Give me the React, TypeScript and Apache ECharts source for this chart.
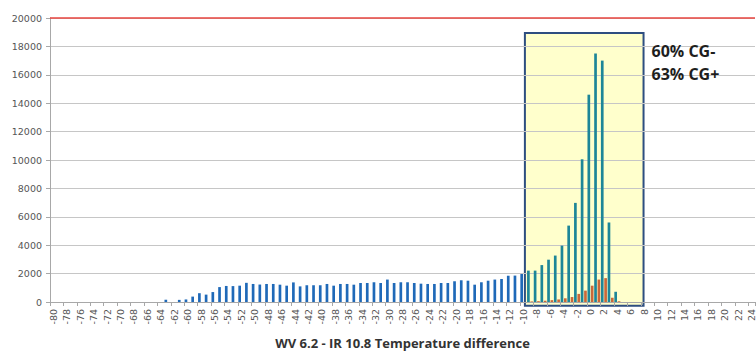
import React, { useEffect, useRef } from 'react';
import * as echarts from 'echarts';

// Temperature difference categories (WV 6.2 - IR 10.8)
const categories: string[] = [
  '-80', '-79', '-78', '-77', '-76', '-75', '-74', '-73', '-72', '-71',
  '-70', '-69', '-68', '-67', '-66', '-65', '-64', '-63', '-62', '-61',
  '-60', '-59', '-58', '-57', '-56', '-55', '-54', '-53', '-52', '-51',
  '-50', '-49', '-48', '-47', '-46', '-45', '-44', '-43', '-42', '-41',
  '-40', '-39', '-38', '-37', '-36', '-35', '-34', '-33', '-32', '-31',
  '-30', '-29', '-28', '-27', '-26', '-25', '-24', '-23', '-22', '-21',
  '-20', '-19', '-18', '-17', '-16', '-15', '-14', '-13', '-12', '-11',
  '-10', '-9', '-8', '-7', '-6', '-5', '-4', '-3', '-2', '-1',
  '0', '1', '2', '3', '4', '5', '6', '7', '8', '9',
  '10', '11', '12', '13', '14', '15', '16', '17', '18', '19',
  '20', '21', '22', '23', '24',
];

// CG- counts (blue)
const cgMinusCounts: number[] = [
  0, 0, 0, 0, 0, 0, 0, 0, 0, 0,
  0, 0, 0, 0, 0, 0, 0, 160, 0, 150,
  180, 380, 620, 520, 700, 1050, 1130, 1120, 1150, 1350,
  1270, 1230, 1270, 1270, 1220, 1150, 1380, 1100, 1180, 1180,
  1180, 1270, 1150, 1270, 1270, 1220, 1340, 1340, 1390, 1340,
  1580, 1340, 1390, 1390, 1340, 1290, 1270, 1270, 1340, 1340,
  1460, 1530, 1500, 1220, 1390, 1500, 1580, 1620, 1850, 1860,
  1970, 2210, 2210, 2600, 2980, 3270, 3970, 5380, 6980, 10050,
  14600, 17500, 17000, 5600, 720, 0, 0, 0, 0, 0,
  0, 0, 0, 0, 0, 0, 0, 0, 0, 0,
  0, 0, 0, 0, 0,
];

// CG+ counts (red-brown)
const cgPlusCounts: number[] = [
  0, 0, 0, 0, 0, 0, 0, 0, 0, 0,
  0, 0, 0, 0, 0, 0, 0, 0, 0, 0,
  0, 0, 0, 0, 0, 0, 0, 0, 0, 0,
  0, 0, 0, 0, 0, 0, 0, 0, 0, 0,
  0, 0, 0, 0, 0, 0, 0, 0, 0, 0,
  0, 0, 0, 0, 0, 0, 0, 0, 0, 0,
  0, 0, 0, 0, 0, 0, 0, 0, 0, 0,
  0, 40, 60, 90, 130, 180, 260, 350, 570, 800,
  1150, 1580, 1680, 300, 50, 0, 0, 0, 0, 0,
  0, 0, 0, 0, 0, 0, 0, 0, 0, 0,
  0, 0, 0, 0, 0,
];

const yMin = 0;
const yMax = 20000;
const yStep = 2000;
const redLineValue = 20000;

// highlighted window (in temperature-difference units) and its count extent
const boxFrom = -9.77;
const boxTo = 7.9;
const boxTop = 18940;
const boxBottom = -260;

const annotationLines = ['60% CG-', '63% CG+'];
const axisTitle = 'WV 6.2 - IR 10.8 Temperature difference';

const BLUE = '#1f69b8';
const TEAL = '#1d8698';
const BROWN = '#b0483a';
const ORANGE = '#c9683a';

const inBox = (idx: number) => {
  const v = Number(categories[idx]);
  return v > boxFrom && v < boxTo;
};

export default function App() {
  const ref = useRef<HTMLDivElement>(null);

  useEffect(() => {
    if (!ref.current) return;
    const chart = echarts.init(ref.current, null, { renderer: 'svg' });
    chart.setOption({
      animation: false,
      grid: {
        left: 50,
        right: 1,
        top: 18,
        bottom: 50,
        containLabel: false,
        outerBoundsMode: 'none',
      },
      xAxis: [
        {
          type: 'category',
          data: categories,
          boundaryGap: true,
          axisLine: { show: true, lineStyle: { color: '#a8a8a8', width: 1 } },
          axisTick: { show: true, interval: 1, length: 4, lineStyle: { color: '#a8a8a8' } },
          axisLabel: {
            interval: 1,
            rotate: 90,
            fontSize: 9.5,
            color: '#555',
            margin: 7,
            fontFamily: 'DejaVu Sans',
          },
          splitLine: { show: false },
          name: axisTitle,
          nameLocation: 'middle',
          nameGap: 34,
          nameTextStyle: {
            fontWeight: 'bold',
            fontSize: 13,
            color: '#333',
            fontFamily: 'Open Sans',
          },
        },
        {
          type: 'value',
          min: -80.5,
          max: 24.5,
          show: false,
          gridIndex: 0,
          axisLine: { onZero: false },
        },
      ],
      yAxis: {
        type: 'value',
        min: yMin,
        max: yMax,
        interval: yStep,
        axisLine: { show: true, onZero: false, lineStyle: { color: '#a8a8a8' } },
        axisTick: { show: true, length: 4, lineStyle: { color: '#a8a8a8' } },
        axisLabel: {
          fontSize: 9.5,
          color: '#555',
          margin: 8,
          fontFamily: 'DejaVu Sans',
          formatter: (v: number) => String(v),
        },
        splitLine: { show: true, lineStyle: { color: '#c6c6c6', width: 1 } },
      },
      series: [
        {
          type: 'bar',
          name: 'CG-',
          data: cgMinusCounts,
          barWidth: '40%',
          barGap: '25%',
          z: 2,
          itemStyle: {
            color: (p: any) => (inBox(p.dataIndex) ? TEAL : BLUE),
          },
          markLine: {
            silent: true,
            symbol: ['none', 'none'],
            label: { show: false },
            lineStyle: { color: '#e8453f', width: 1.5, type: 'solid' },
            data: [{ yAxis: redLineValue }],
          },
        },
        {
          type: 'bar',
          name: 'CG+',
          data: cgPlusCounts,
          barWidth: '40%',
          barGap: '25%',
          z: 2,
          itemStyle: {
            color: (p: any) => (inBox(p.dataIndex) ? ORANGE : BROWN),
          },
        },
      ],
    });

    const x1 = chart.convertToPixel({ xAxisIndex: 1 }, boxFrom) as number;
    const x2 = chart.convertToPixel({ xAxisIndex: 1 }, boxTo) as number;
    const y1 = chart.convertToPixel({ yAxisIndex: 0 }, boxTop) as number;
    const y2 = chart.convertToPixel({ yAxisIndex: 0 }, boxBottom) as number;

    chart.setOption({
      graphic: [
        {
          type: 'rect',
          z: -10,
          shape: { x: x1, y: y1, width: x2 - x1, height: y2 - y1 },
          style: { fill: '#ffffcc', stroke: '#2e4e80', lineWidth: 2 },
          silent: true,
        },
        ...annotationLines.map((t, i) => ({
          type: 'text',
          x: x2 + 8,
          y: y1 + 18 + i * 23,
          style: {
            text: t,
            fill: '#1e1e1e',
            font: 'bold 16px "Open Sans"',
            textVerticalAlign: 'middle',
          },
        })),
      ],
    });

    return () => chart.dispose();
  }, []);

  return (
    <div
      ref={ref}
      style={{ position: 'fixed', left: 0, top: 0, width: 756, height: 352, background: '#fff' }}
    />
  );
}
